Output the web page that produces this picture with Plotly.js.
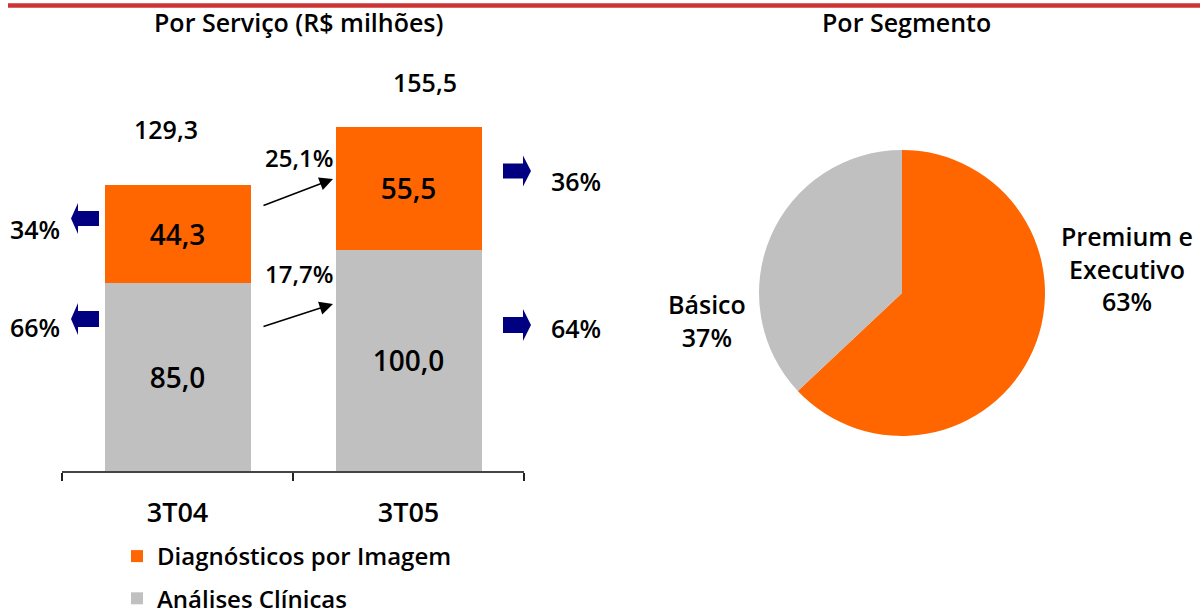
<!DOCTYPE html>
<html><head><meta charset="utf-8">
<script src="https://cdn.plot.ly/plotly-3.0.1.min.js"></script>
<style>html,body{margin:0;padding:0;background:#fff}#chart{width:1200px;height:612px}</style>
</head><body><div id="chart"></div>
<script>
// ---- data ----
const quarters = ['3T04', '3T05'];
const clinicalValues = [85.0, 100.0];
const imagingValues = [44.3, 55.5];
const clinicalName = 'Análises Clínicas';
const imagingName = 'Diagnósticos por Imagem';
const growthLabels = ['25,1%', '17,7%']; // [imaging growth, clinical growth]
const segmentLabels = ['Premium e<br>Executivo', 'Básico'];
const segmentValues = [63, 37];
const chartTitles = ['Por Serviço (R$ milhões)', 'Por Segmento'];

// ---- helpers ----
const W = 1200, H = 612;
const px = x => x / W, py = y => 1 - y / H;
const fmt = v => v.toFixed(1).replace('.', ',');
const totals = quarters.map((q, i) => clinicalValues[i] + imagingValues[i]);
const pct = (v, t) => Math.round(v / t * 100) + '%';
const FONT = 'Open Sans, DejaVu Sans, sans-serif';
const WEIGHT = 600;
const ORANGE = '#FF6600', GREY = '#C0C0C0', NAVY = '#000080';
const f = size => ({family: FONT, size: size, color: '#000', weight: WEIGHT});

function blockArrow(tipX, cy, dir, headLen, headHalf, shaftLen, shaftHalf) {
  const pts = [
    [tipX, cy],
    [tipX - dir * headLen, cy - headHalf],
    [tipX - dir * headLen, cy - shaftHalf],
    [tipX - dir * (headLen + shaftLen), cy - shaftHalf],
    [tipX - dir * (headLen + shaftLen), cy + shaftHalf],
    [tipX - dir * headLen, cy + shaftHalf],
    [tipX - dir * headLen, cy + headHalf]
  ];
  return {
    type: 'path', xref: 'paper', yref: 'paper',
    path: 'M' + pts.map(p => px(p[0]).toFixed(5) + ',' + py(p[1]).toFixed(5)).join(' L') + ' Z',
    fillcolor: NAVY, line: {width: 0}
  };
}
function label(text, x, y, size) {
  return {text: text, x: px(x), y: py(y), xref: 'paper', yref: 'paper', showarrow: false,
          xanchor: 'center', yanchor: 'middle', align: 'center', font: f(size)};
}

const traces = [
  {
    type: 'bar', name: clinicalName, x: quarters, y: clinicalValues,
    marker: {color: GREY, line: {width: 0}}, width: 0.632,
    text: clinicalValues.map(fmt), textposition: 'inside', insidetextanchor: 'middle',
    textfont: f(28), legendgroup: 'clin', legendrank: 2, hoverinfo: 'skip'
  },
  {
    type: 'bar', name: imagingName, x: quarters, y: imagingValues,
    marker: {color: ORANGE, line: {width: 0}}, width: 0.632,
    text: imagingValues.map(fmt), textposition: 'inside', insidetextanchor: 'middle',
    textfont: f(28), legendgroup: 'img', legendrank: 1, hoverinfo: 'skip'
  },
  {
    type: 'pie', labels: segmentLabels, values: segmentValues,
    marker: {colors: [ORANGE, GREY], line: {width: 0}},
    sort: false, direction: 'clockwise', rotation: 0,
    textinfo: 'none', hoverinfo: 'skip', showlegend: false,
    domain: {x: [px(759), px(1045)], y: [py(436), py(150)]}
  }
];

const segTotal = segmentValues.reduce((a, b) => a + b, 0);
const annotations = [
  label(chartTitles[0], 298, 22, 25),
  label(chartTitles[1], 906, 22, 25),
  // totals
  ...quarters.map((q, i) => ({
    text: fmt(totals[i]), x: q, y: totals[i], xref: 'x', yref: 'y', showarrow: false,
    xanchor: 'center', yanchor: 'middle', xshift: [-12, 16][i], yshift: [56, 45][i],
    font: f(25)
  })),
  // shares 3T04 (left), 3T05 (right)
  label(pct(imagingValues[0], totals[0]), 35, 229, 25),
  label(pct(clinicalValues[0], totals[0]), 35, 327, 25),
  label(pct(imagingValues[1], totals[1]), 576, 181, 25),
  label(pct(clinicalValues[1], totals[1]), 576, 328, 25),
  // growth labels
  label(growthLabels[0], 299, 157, 24),
  label(growthLabels[1], 299, 273, 24),
  // growth arrows
  {text: '', x: px(333), y: py(179), xref: 'paper', yref: 'paper', showarrow: true,
   ax: -71, ay: 27, arrowhead: 2, arrowsize: 1.8, arrowwidth: 1.5, arrowcolor: '#000'},
  {text: '', x: px(333), y: py(304), xref: 'paper', yref: 'paper', showarrow: true,
   ax: -71, ay: 23, arrowhead: 2, arrowsize: 1.8, arrowwidth: 1.5, arrowcolor: '#000'},
  // pie labels
  label(segmentLabels[0] + '<br>' + pct(segmentValues[0], segTotal), 1127, 268, 25),
  label(segmentLabels[1] + '<br>' + pct(segmentValues[1], segTotal), 707, 320, 25)
];

const shapes = [
  {type: 'line', xref: 'paper', yref: 'paper', x0: px(8), x1: 1, y0: py(5.5), y1: py(5.5),
   line: {color: '#CC3333', width: 4.5}},
  blockArrow(71, 218.5, -1, 7, 15.5, 21, 7.5),
  blockArrow(71, 319, -1, 7, 16, 21, 8),
  blockArrow(531, 171, 1, 8, 15.5, 20, 7.5),
  blockArrow(531, 325, 1, 8, 16, 20, 8)
];

const layout = {
  width: W, height: H, autosize: false,
  margin: {l: 0, r: 0, t: 0, b: 0, pad: 0, autoexpand: false},
  paper_bgcolor: '#fff', plot_bgcolor: '#fff',
  separators: ',.',
  barmode: 'stack', bargap: 0,
  font: {family: FONT, color: '#000'},
  showlegend: true,
  legend: {
    x: px(117), y: py(534), xanchor: 'left', yanchor: 'top',
    traceorder: 'grouped', tracegroupgap: 8,
    font: f(24),
    bgcolor: 'rgba(0,0,0,0)', borderwidth: 0
  },
  xaxis: {
    domain: [px(62), px(524)], type: 'category', range: [-0.5, 1.5],
    showline: true, linecolor: '#444', linewidth: 1.5,
    ticks: 'outside', tickson: 'boundaries', ticklen: 8, tickwidth: 1.5, tickcolor: '#222',
    tickfont: f(27), ticklabelstandoff: 17,
    showgrid: false, zeroline: false, fixedrange: true
  },
  yaxis: {
    domain: [py(471), py(60)], range: [0, 411 / 2.212],
    visible: false, showgrid: false, zeroline: false, fixedrange: true
  },
  annotations: annotations,
  shapes: shapes
};

Plotly.newPlot('chart', traces, layout, {displayModeBar: false, staticPlot: true});
</script>
</body></html>
